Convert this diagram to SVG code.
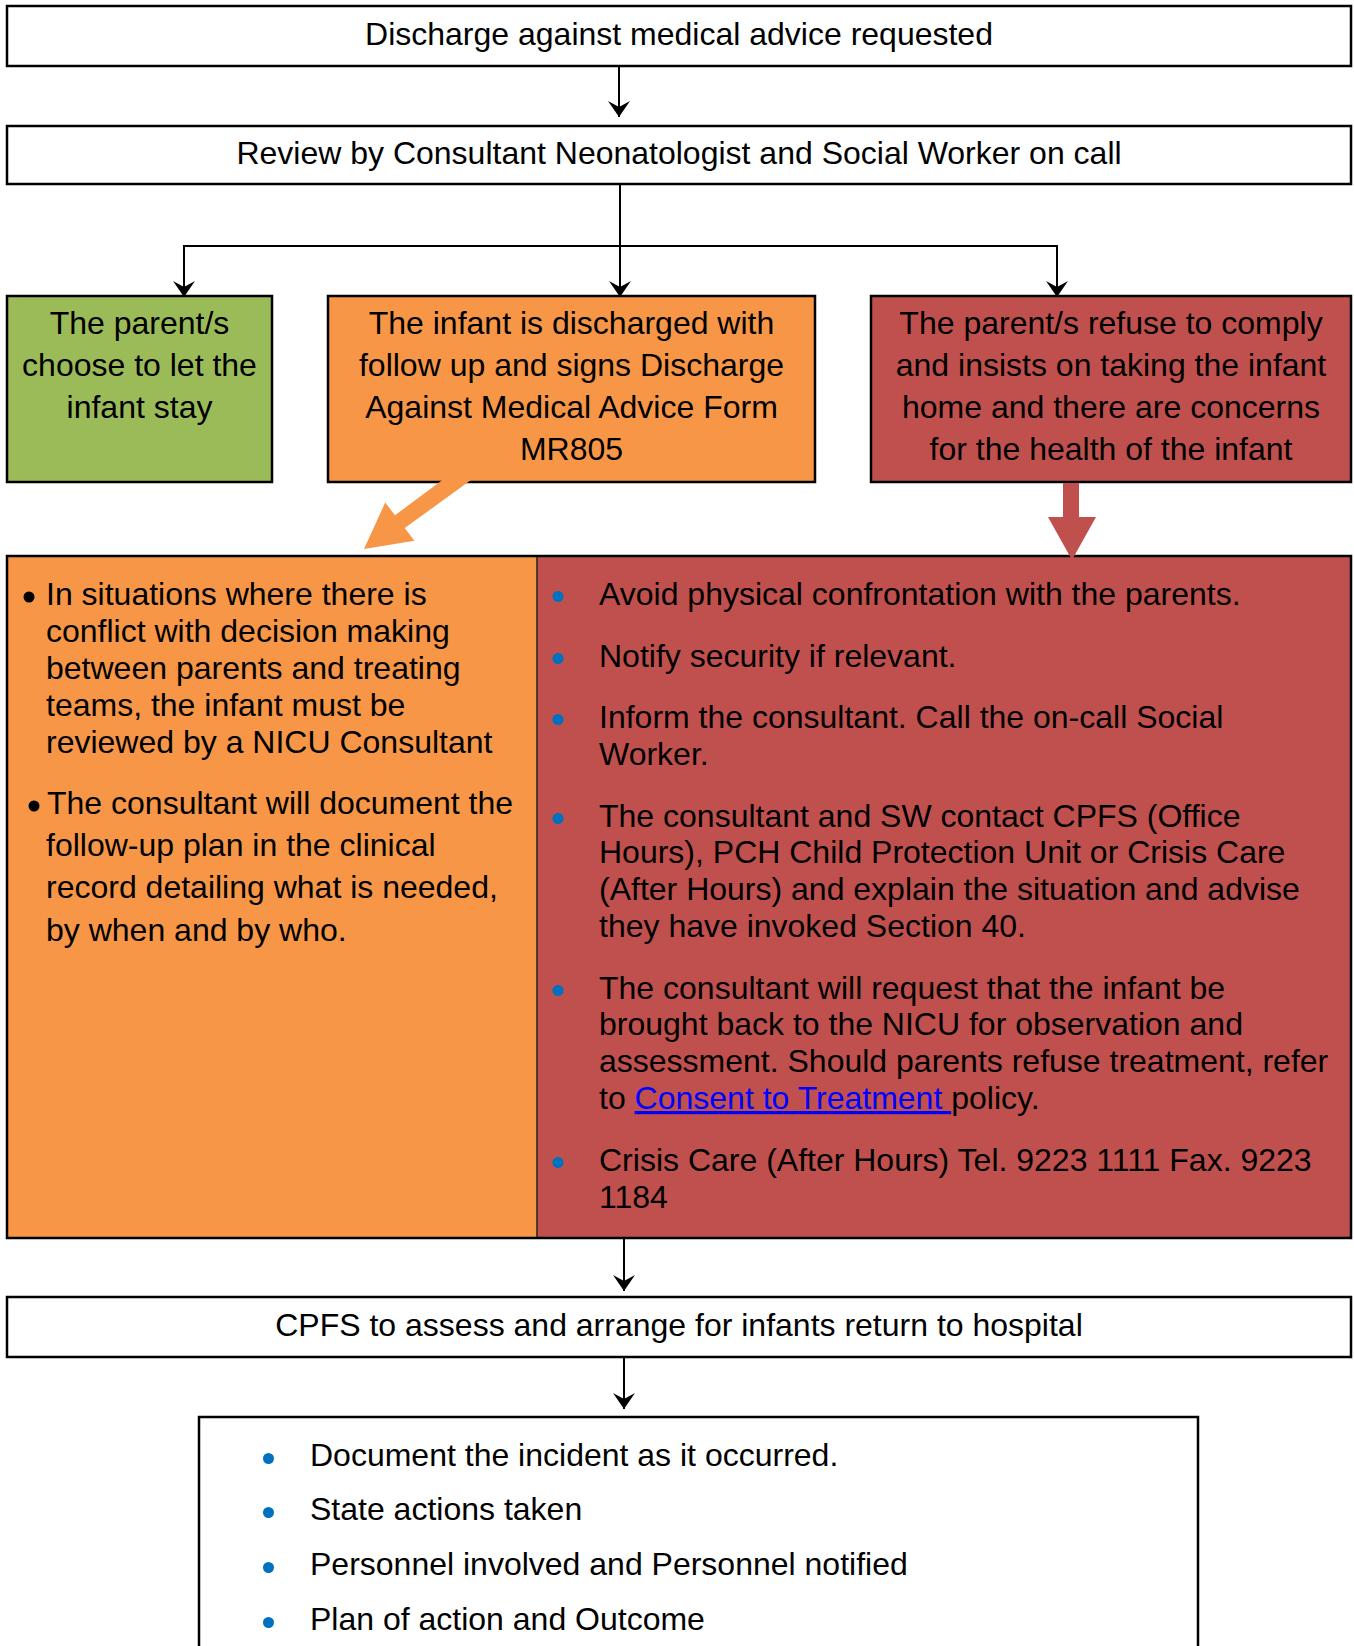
<svg xmlns="http://www.w3.org/2000/svg" width="1354" height="1646" viewBox="0 0 1354 1646">
  <style>
    text { font-family: "Liberation Sans", Arial, sans-serif; font-size: 32px; fill: #000; }
    .c { text-anchor: middle; }
    .box { stroke: #000; stroke-width: 2.5; }
    .conn { fill: none; stroke: #000; stroke-width: 2; }
    .link { fill: #0000FF; text-decoration: underline; }
  </style>
  <defs>
    <marker id="arr" markerUnits="userSpaceOnUse" markerWidth="16" markerHeight="22" viewBox="0 0 16 22" refX="16" refY="11" orient="auto">
      <path d="M0,0 L16,11 L0,22 L6,11 Z" fill="#000"/>
    </marker>
  </defs>

  <rect width="1354" height="1646" fill="#fff"/>

  <g id="node-request">
    <rect class="box" x="7" y="6" width="1344" height="60" fill="#fff"/>
    <text class="c" x="679" y="45">Discharge against medical advice requested</text>
  </g>

  <g id="node-review">
    <rect class="box" x="7" y="126" width="1344" height="58" fill="#fff"/>
    <text class="c" x="679" y="164">Review by Consultant Neonatologist and Social Worker on call</text>
  </g>

  <g id="node-stay">
    <rect class="box" x="7" y="296" width="265" height="186" fill="#9BBB59"/>
    <text class="c" x="139.5" y="334">The parent/s</text>
    <text class="c" x="139.5" y="376">choose to let the</text>
    <text class="c" x="139.5" y="418">infant stay</text>
  </g>

  <g id="node-discharged">
    <rect class="box" x="328" y="296" width="487" height="186" fill="#F79646"/>
    <text class="c" x="571.5" y="334">The infant is discharged with</text>
    <text class="c" x="571.5" y="376">follow up and signs Discharge</text>
    <text class="c" x="571.5" y="418">Against Medical Advice Form</text>
    <text class="c" x="571.5" y="460">MR805</text>
  </g>

  <g id="node-refuse">
    <rect class="box" x="871" y="296" width="480" height="186" fill="#C0504D"/>
    <text class="c" x="1111" y="334">The parent/s refuse to comply</text>
    <text class="c" x="1111" y="376">and insists on taking the infant</text>
    <text class="c" x="1111" y="418">home and there are concerns</text>
    <text class="c" x="1111" y="460">for the health of the infant</text>
  </g>

  <g id="node-conflict">
    <rect x="7" y="556" width="530" height="682" fill="#F79646"/>
    <circle cx="29" cy="597" r="5.5" fill="#000"/>
    <text x="46" y="605">In situations where there is</text>
    <text x="46" y="642">conflict with decision making</text>
    <text x="46" y="679">between parents and treating</text>
    <text x="46" y="716">teams, the infant must be</text>
    <text x="46" y="753">reviewed by a NICU Consultant</text>
    <circle cx="34" cy="806" r="5.5" fill="#000"/>
    <text x="47" y="814">The consultant will document the</text>
    <text x="46" y="856">follow-up plan in the clinical</text>
    <text x="46" y="898">record detailing what is needed,</text>
    <text x="46" y="941">by when and by who.</text>
  </g>

  <g id="node-actions">
    <rect x="537" y="556" width="814" height="682" fill="#C0504D"/>
    <g fill="#0070C0">
      <circle cx="558" cy="596.5" r="5.5"/>
      <circle cx="558" cy="658.5" r="5.5"/>
      <circle cx="558" cy="719.5" r="5.5"/>
      <circle cx="558" cy="818.5" r="5.5"/>
      <circle cx="558" cy="990.5" r="5.5"/>
      <circle cx="558" cy="1162.5" r="5.5"/>
    </g>
    <text x="599" y="605">Avoid physical confrontation with the parents.</text>
    <text x="599" y="667">Notify security if relevant.</text>
    <text x="599" y="728">Inform the consultant. Call the on-call Social</text>
    <text x="599" y="765">Worker.</text>
    <text x="599" y="827">The consultant and SW contact CPFS (Office</text>
    <text x="599" y="863">Hours), PCH Child Protection Unit or Crisis Care</text>
    <text x="599" y="900">(After Hours) and explain the situation and advise</text>
    <text x="599" y="937">they have invoked Section 40.</text>
    <text x="599" y="999">The consultant will request that the infant be</text>
    <text x="599" y="1035">brought back to the NICU for observation and</text>
    <text x="599" y="1072">assessment. Should parents refuse treatment, refer</text>
    <text x="599" y="1109" xml:space="preserve">to <tspan class="link">Consent to Treatment </tspan>policy.</text>
    <text x="599" y="1171">Crisis Care (After Hours) Tel. 9223 1111 Fax. 9223</text>
    <text x="599" y="1208">1184</text>
  </g>

  <g id="panel-frame">
    <line x1="537" y1="556" x2="537" y2="1238" stroke="#222" stroke-width="1.5"/>
    <rect x="7" y="556" width="1344" height="682" fill="none" stroke="#000" stroke-width="2.5"/>
  </g>

  <g id="node-cpfs">
    <rect class="box" x="7" y="1297" width="1344" height="60" fill="#fff"/>
    <text class="c" x="679" y="1336">CPFS to assess and arrange for infants return to hospital</text>
  </g>

  <g id="node-document">
    <rect class="box" x="199" y="1417" width="999" height="260" fill="#fff"/>
    <g fill="#0070C0">
      <circle cx="268.5" cy="1458.5" r="5.5"/>
      <circle cx="268.5" cy="1512.5" r="5.5"/>
      <circle cx="268.5" cy="1567.5" r="5.5"/>
      <circle cx="268.5" cy="1622.5" r="5.5"/>
    </g>
    <text x="310" y="1466">Document the incident as it occurred.</text>
    <text x="310" y="1520">State actions taken</text>
    <text x="310" y="1575">Personnel involved and Personnel notified</text>
    <text x="310" y="1630">Plan of action and Outcome</text>
  </g>

  <g id="connectors">
    <path class="conn" d="M619,66 L619,117" marker-end="url(#arr)"/>
    <path class="conn" d="M620,184 L620,297" marker-end="url(#arr)"/>
    <path class="conn" d="M184,246 L1057,246"/>
    <path class="conn" d="M184,245 L184,297" marker-end="url(#arr)"/>
    <path class="conn" d="M1057,245 L1057,297" marker-end="url(#arr)"/>
    <path class="conn" d="M624,1238 L624,1291" marker-end="url(#arr)"/>
    <path class="conn" d="M624,1357 L624,1409" marker-end="url(#arr)"/>
    <polygon points="482,472 404.7,528.1 414.4,540.8 364,549 385.2,502.6 395,515.3 472,458" fill="#F79646"/>
    <polygon points="1063,483 1079,483 1079,517 1096,517 1072,560 1048,517 1063,517" fill="#C0504D"/>
  </g>
</svg>
